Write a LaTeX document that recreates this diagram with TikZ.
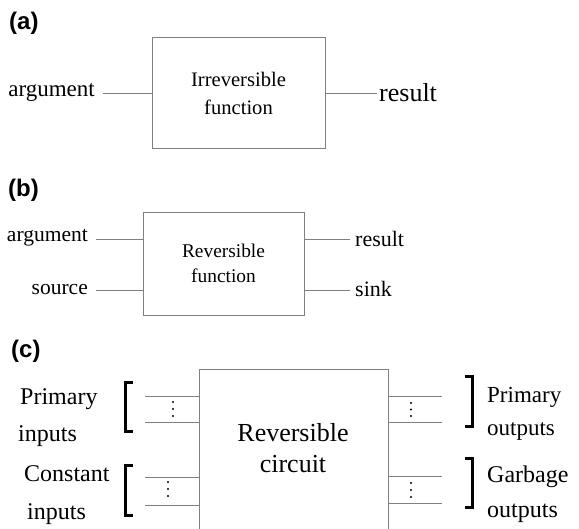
\documentclass[tikz,border=0pt]{standalone}
\usepackage{fontspec}
\setmainfont{Liberation Serif}
\newfontfamily\labelfont{Liberation Sans}
\begin{document}
\begin{tikzpicture}[x=1pt,y=-1pt,
  wire/.style={draw=black!50,line width=0.9pt},
  blockbox/.style={draw=black!50,line width=0.9pt,rectangle,inner sep=0pt},
  txt/.style={inner sep=0pt,font=\fontsize{#1}{#1}\selectfont},
  panel/.style={inner sep=0pt,anchor=base west,font=\labelfont\bfseries\fontsize{24}{24}\selectfont},
  brace/.style={draw=black,line width=3pt,line cap=butt,line join=miter},
  dotmark/.style={circle,fill=black,inner sep=0pt,minimum size=2.2pt}]
\clip (0,0) rectangle (579,529);
\fill[white] (0,0) rectangle (579,529);

% ---------- (a) irreversible function ----------
\node[panel] (la) at (9,30) {(a)};
\node[blockbox,minimum width=173pt,minimum height=111pt] (fa) at (238.5,92.5) {};
\node[txt=20.6,anchor=base] (fa1) at (238.5,87) {Irreversible};
\node[txt=20.6,anchor=base] (fa2) at (238.5,115) {function};
\node[txt=23,anchor=base east] (arga) at (95,97) {argument};
\node[txt=26,anchor=base west] (resa) at (379,102) {result};
\coordinate (ina) at (103,93);
\coordinate (outa) at (377,93);
\draw[wire] (ina) -- (fa.west |- ina);
\draw[wire] (fa.east |- outa) -- (outa);

% ---------- (b) reversible function ----------
\node[panel] (lb) at (8,197) {(b)};
\node[blockbox,minimum width=161pt,minimum height=103pt] (fb) at (223.5,263.5) {};
\node[txt=19.4,anchor=base] (fb1) at (223.5,258) {Reversible};
\node[txt=19.4,anchor=base] (fb2) at (223.5,283) {function};
\node[txt=21.5,anchor=base east] (argb) at (88,242) {argument};
\node[txt=21.5,anchor=base east] (srcb) at (88,295) {source};
\node[txt=22,anchor=base west] (resb) at (355,247) {result};
\node[txt=22,anchor=base west] (snkb) at (355,297) {sink};
\coordinate (inb1) at (96,239);
\coordinate (inb2) at (96,290);
\coordinate (outb1) at (350,239);
\coordinate (outb2) at (350,290);
\draw[wire] (inb1) -- (fb.west |- inb1);
\draw[wire] (inb2) -- (fb.west |- inb2);
\draw[wire] (fb.east |- outb1) -- (outb1);
\draw[wire] (fb.east |- outb2) -- (outb2);

% ---------- (c) reversible circuit ----------
\node[panel] (lc) at (11,358) {(c)};
\node[blockbox,minimum width=189pt,minimum height=200pt] (fc) at (293.5,469) {};
\node[txt=26,anchor=base] (fc1) at (293,442) {Reversible};
\node[txt=26,anchor=base] (fc2) at (293,473) {circuit};

% input labels
\node[txt=24,anchor=base west] (pi1) at (20,405) {Primary};
\node[txt=24,anchor=base west] (pi2) at (18,442) {inputs};
\node[txt=24,anchor=base west] (ci1) at (24,482) {Constant};
\node[txt=24,anchor=base west] (ci2) at (27,520) {inputs};
% output labels
\node[txt=23,anchor=base west] (po1) at (487,403) {Primary};
\node[txt=23,anchor=base west] (po2) at (487,436) {outputs};
\node[txt=24,anchor=base west] (go1) at (487,483) {Garbage};
\node[txt=24,anchor=base west] (go2) at (487,518) {outputs};

% wires into and out of the circuit
\foreach \n/\y in {1/396,2/422,3/477,4/505}{
  \coordinate (ci\n) at (145,\y);
  \draw[wire] (ci\n) -- (fc.west |- ci\n);
}
\foreach \n/\y in {1/396,2/422,3/476,4/503}{
  \coordinate (co\n) at (442,\y);
  \draw[wire] (fc.east |- co\n) -- (co\n);
}

% vertical dots between grouped wires
\foreach \y in {402,409,416}{\node[dotmark] at (173,\y) {};}
\foreach \y in {482,489,496}{\node[dotmark] at (168,\y) {};}
\foreach \y in {403,409.5,416}{\node[dotmark] at (411,\y) {};}
\foreach \y in {483,490,497}{\node[dotmark] at (411,\y) {};}

% grouping brackets
\draw[brace] (133,383) -- (125,383) -- (125,432) -- (133,432);
\draw[brace] (133,466) -- (125,466) -- (125,516) -- (133,516);
\draw[brace] (465,377) -- (472,377) -- (472,427) -- (465,427);
\draw[brace] (465,459) -- (472,459) -- (472,508) -- (465,508);
\end{tikzpicture}
\end{document}
